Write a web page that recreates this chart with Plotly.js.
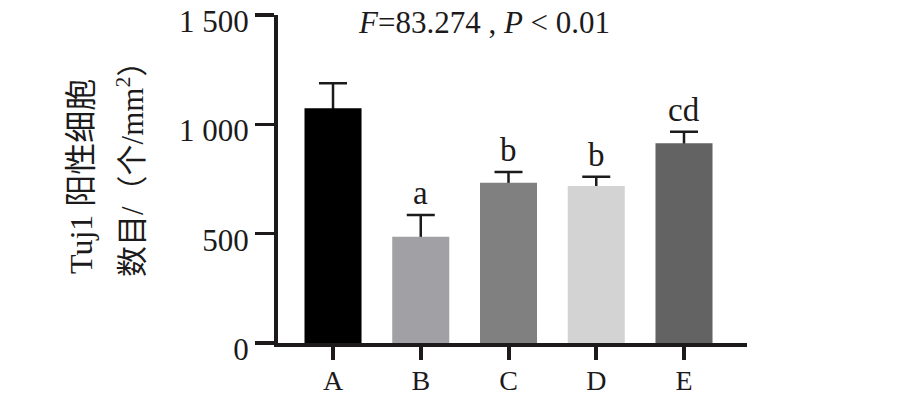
<!DOCTYPE html>
<html>
<head>
<meta charset="utf-8">
<script src="https://cdn.plot.ly/plotly-3.0.1.min.js"></script>
<style>html,body{margin:0;padding:0;background:#fff;}#chart{width:898px;height:399px;}</style>
</head>
<body>
<div id="chart"></div>
<script>
const categories = ['A', 'B', 'C', 'D', 'E'];
const means = [1073, 486, 733, 718, 913];
const errPlus = [115, 99, 49, 42, 53];
const sigLetters = ['', 'a', 'b', 'b', 'cd'];
const barColors = ['#000000', '#a1a1a5', '#808080', '#d3d3d3', '#636363'];
const yTickVals = [0, 500, 1000, 1500];
const yTickText = ['0', '500', '1 000', '1 500'];
const titleText = '<i>F</i>=83.274 , <i>P</i> &lt; 0.01';
const yTitleLine1 = 'Tuj1 阳性细胞';
const yTitleLine2 = '数目/（个/mm<sup>2</sup>）';

const ink = '#1c1a1a';
const serif = 'Liberation Serif, "Times New Roman", "Noto Sans CJK SC", serif';

// error bars drawn first (symmetric), then bars on top hide the lower half
const errTrace = {
  type: 'bar',
  x: categories,
  y: means,
  width: 0.65,
  marker: {color: 'rgba(0,0,0,0)', line: {width: 0}},
  error_y: {
    type: 'data', symmetric: true, array: errPlus,
    color: ink, thickness: 2.5, width: 14
  },
  hoverinfo: 'skip'
};
const barTrace = {
  type: 'bar',
  x: categories,
  y: means,
  width: 0.65,
  marker: {color: barColors, line: {width: 0}},
  hoverinfo: 'skip'
};

const annotations = [];
categories.forEach((c, i) => {
  if (sigLetters[i]) {
    annotations.push({
      x: c, y: means[i] + errPlus[i], xref: 'x', yref: 'y',
      text: sigLetters[i], showarrow: false, yanchor: 'bottom', yshift: 2,
      font: {family: serif, size: 33, color: ink}
    });
  }
});
annotations.push({
  x: 0.44, y: 1, xref: 'paper', yref: 'paper', yanchor: 'middle', yshift: -7,
  text: titleText, showarrow: false,
  font: {family: serif, size: 31, color: ink}
});
annotations.push({
  x: 0, y: 0.506, xref: 'paper', yref: 'paper', xanchor: 'center', yanchor: 'middle',
  xshift: -197, textangle: -90, text: yTitleLine1, showarrow: false,
  font: {family: serif, size: 32, color: ink}
});
annotations.push({
  x: 0, y: 0.506, xref: 'paper', yref: 'paper', xanchor: 'center', yanchor: 'middle',
  xshift: -148, yshift: 15, textangle: -90, text: yTitleLine2, showarrow: false,
  font: {family: serif, size: 31, color: ink}
});

const layout = {
  width: 898, height: 399,
  margin: {l: 278, r: 151, t: 15, b: 56, pad: 0},
  paper_bgcolor: '#ffffff', plot_bgcolor: '#ffffff',
  showlegend: false,
  barmode: 'overlay',
  xaxis: {
    type: 'category', range: [-0.627, 4.718],
    showline: true, linewidth: 4, linecolor: ink,
    ticks: 'outside', ticklen: 13, tickwidth: 4, tickcolor: ink,
    showgrid: false, zeroline: false, ticklabelstandoff: -4,
    tickfont: {family: serif, size: 28, color: ink}
  },
  yaxis: {
    range: [0, 1500], tickvals: yTickVals, ticktext: yTickText,
    showline: true, linewidth: 4, linecolor: ink,
    ticks: 'outside', ticklen: 19, tickwidth: 3.5, tickcolor: ink,
    showgrid: false, zeroline: false, ticklabeloverflow: 'allow',
    ticklabelshift: 6,
    tickfont: {family: serif, size: 31, color: ink}
  },
  annotations: annotations
};

Plotly.newPlot('chart', [errTrace, barTrace], layout, {displayModeBar: false, staticPlot: true});
</script>
</body>
</html>
